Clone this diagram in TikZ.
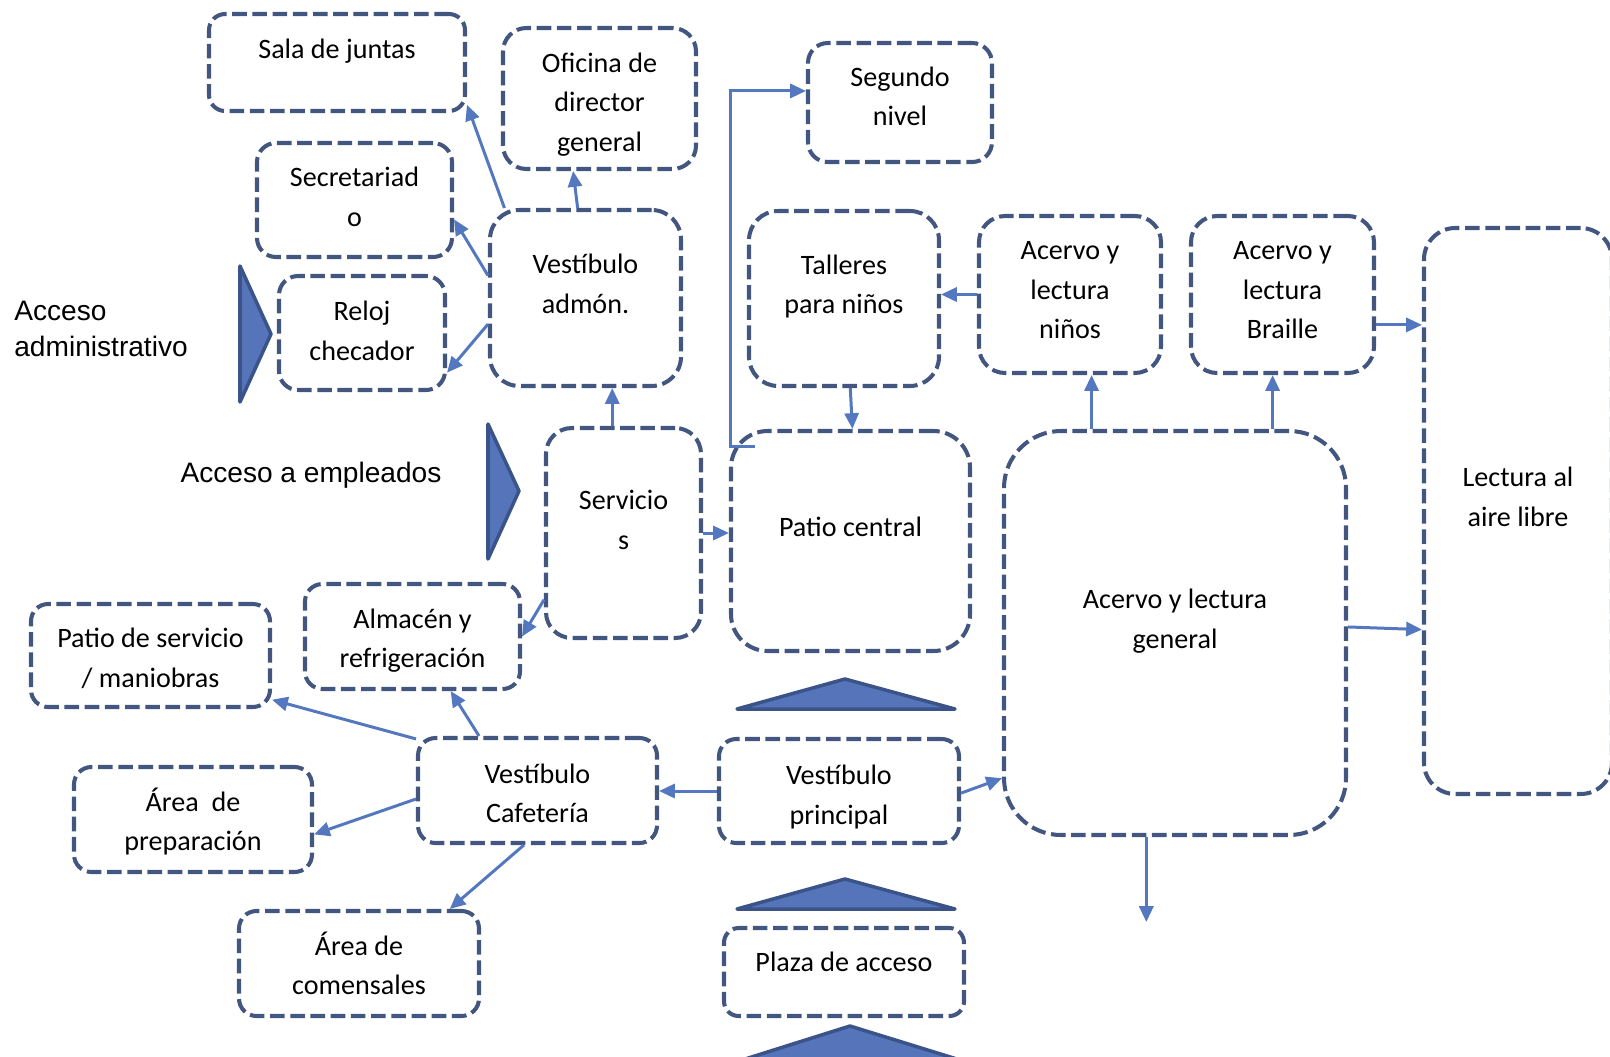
\documentclass[tikz,border=0pt]{standalone}
\usepackage{fontspec}
\newfontfamily\roomfont{Carlito}
\newfontfamily\accessfont{Liberation Sans}
\usetikzlibrary{arrows.meta}
\definecolor{roomblue}{RGB}{66,86,128}
\definecolor{arrowblue}{RGB}{84,120,192}
\definecolor{gatefill}{RGB}{86,116,186}
\definecolor{gateline}{RGB}{58,84,138}

\begin{document}
\begin{tikzpicture}
[x=0.02cm,y=-0.02cm,
  roomdecorate/.style={draw=roomblue,line width=2.3pt,dash pattern=on 8.3pt off 3.2pt,inner sep=0pt},
  roomlabel/.style={font=\roomfont\fontsize{16pt}{22.5pt}\selectfont,align=center,inner sep=0pt},
  accessdecorate/.style={font=\accessfont\fontsize{16pt}{21pt}\selectfont,inner sep=0pt},
  arrowdecorate/.style={-{Triangle[length=9pt,width=8pt]},draw=arrowblue,line width=1.7pt},
  gatedecorate/.style={fill=gatefill,draw=gateline,line width=2pt,line join=round}]
\useasboundingbox (0,0) rectangle (1610,1056);
%% rooms
\foreach \nodename/\x/\y/\w/\h/\dy/\txt in {sala/337/62.5/256/97/11/{Sala de juntas},
  oficina/599.5/98.5/193/141/-6/{Oficina de\\director\\general},
  segundo/900/102.5/184/119/6/{Segundo\\nivel},
  secre/354.5/200/195/114/3/{Secretariad\\o},
  vadmon/585.5/298/191/176/14/{Vestíbulo\\admón.},
  reloj/362/333/166/114/2/{Reloj\\checador},
  talleres/844/298.5/190/175/12/{Talleres\\para niños},
  anninos/1070/294.5/182/157/4/{Acervo y\\lectura\\niños},
  braille/1282.5/294.5/183/157/4/{Acervo y\\lectura\\Braille},
  aire/1518/511/188/566/14/{Lectura al\\aire libre},
  servicios/623.5/533/155/210/13/{Servicio\\s},
  patio/850.5/541/239/220/14/{Patio central},
  general/1175/633/342/404/12/{Acervo y lectura\\general},
  almacen/412.5/636.5/215/105/-4/{Almacén y\\refrigeración},
  patioserv/150.5/655.5/239/103/-3/{Patio de servicio\\/ maniobras},
  vcafe/537.5/790.5/239/105/-3/{Vestíbulo\\Cafetería},
  vprin/839/791/240/104/-6/{Vestíbulo\\principal},
  prep/193/819.5/238/105/-2/{Área~ de\\preparación},
  comens/359/963.5/240/105/0/{Área de\\comensales},
  plaza/844/972/240/88/10/{Plaza de acceso}}
{
  \pgfmathsetmacro\corner{min(\w,\h)/6*0.02}
  \node (\nodename) at (\x,\y) [roomdecorate,rounded corners=\corner cm,
    minimum width=\w*0.02cm,minimum height=\h*0.02cm,
    label={[roomlabel,yshift=\dy*0.02cm]center:\txt}] {};
}
%% accesses
\node (accadmin) at (14,329) [accessdecorate,anchor=west,align=left] {Acceso\\administrativo};
\node (accempl) at (311,475) [accessdecorate] {Acceso a empleados};
\draw[gatedecorate] (240,266) -- (271,334) -- (240,402) -- cycle;
\draw[gatedecorate] (488,424) -- (519,491) -- (488,559) -- cycle;
\draw[gatedecorate] (737,709) -- (845,679) -- (955,709) -- cycle;
\draw[gatedecorate] (737,909) -- (845,879) -- (955,909) -- cycle;
\draw[gatedecorate] (742,1060) -- (850,1026) -- (960,1060) -- cycle;
\coordinate (exitdown) at (1145,922);
%% connections
\path
\foreach \startnode/\endnode in {vadmon.132/sala.-18, vadmon.95/oficina.-110,
  vadmon.167/secre.-11, vadmon.195/reloj.-25, servicios.220/almacen.east,
  talleres.-86/patio.89, general.2/aire.231, vprin.-1/general.220,
  vcafe.157/patioserv.-20, vcafe.137/almacen.-55, vcafe.184/prep.-7,
  vcafe.-104/comens.31}
{
  (\startnode) edge[arrowdecorate] (\endnode)
};
\draw[arrowdecorate] (servicios.96) -- (servicios.96 |- vadmon.south);
\draw[arrowdecorate] (servicios.east) -- (servicios.east -| patio.west);
\draw[arrowdecorate] ([shift={(26,18)}]patio.north west) -- ++(-24,0) |- (segundo.173);
\draw[arrowdecorate] (anninos.west) -- (anninos.west -| talleres.east);
\draw[arrowdecorate] (anninos.-75 |- general.north) -- (anninos.-75);
\draw[arrowdecorate] (braille.-97 |- general.north) -- (braille.-97);
\draw[arrowdecorate] (braille.-18) -- (braille.-18 -| aire.west);
\draw[arrowdecorate] (general.-98) -- (general.-98 |- exitdown);
\draw[arrowdecorate] (vprin.west) -- (vprin.west -| vcafe.east);
\end{tikzpicture}
\end{document}
